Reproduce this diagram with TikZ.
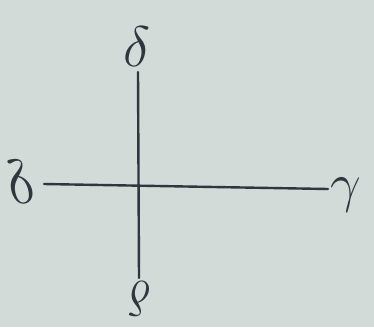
\documentclass[tikz,border=0pt]{standalone}
\usepackage{graphicx}
\definecolor{paper}{HTML}{D3DBD9}
\definecolor{ink}{HTML}{30363E}
\tikzset{
  axis/.style={draw=ink, line width=2.4pt, line cap=round},
  glyph/.style={text=ink, inner sep=0pt, font=\Huge}
}
\begin{document}
\begin{tikzpicture}[x=1pt,y=-1pt]
\fill[paper] (0,0) rectangle (374,327);
\useasboundingbox (0,0) rectangle (374,327);
\coordinate (vt) at (138,72);
\coordinate (vb) at (139,278);
\coordinate (hl) at (44,184);
\coordinate (hr) at (328,189);
\draw[axis] (vt) -- (vb);
\draw[axis] (hl) -- (hr);
\node[glyph, scale=2.3] (top) at (137,47) {$\delta$};
\node[glyph, scale=2.5, xscale=-1] (left) at (21,182) {$\delta$};
\node[glyph, scale=2.2] (right) at (346,195) {$\gamma$};
\node[glyph, scale=2.0, rotate=180] (bottom) at (140,299) {$\delta$};
\end{tikzpicture}
\end{document}
